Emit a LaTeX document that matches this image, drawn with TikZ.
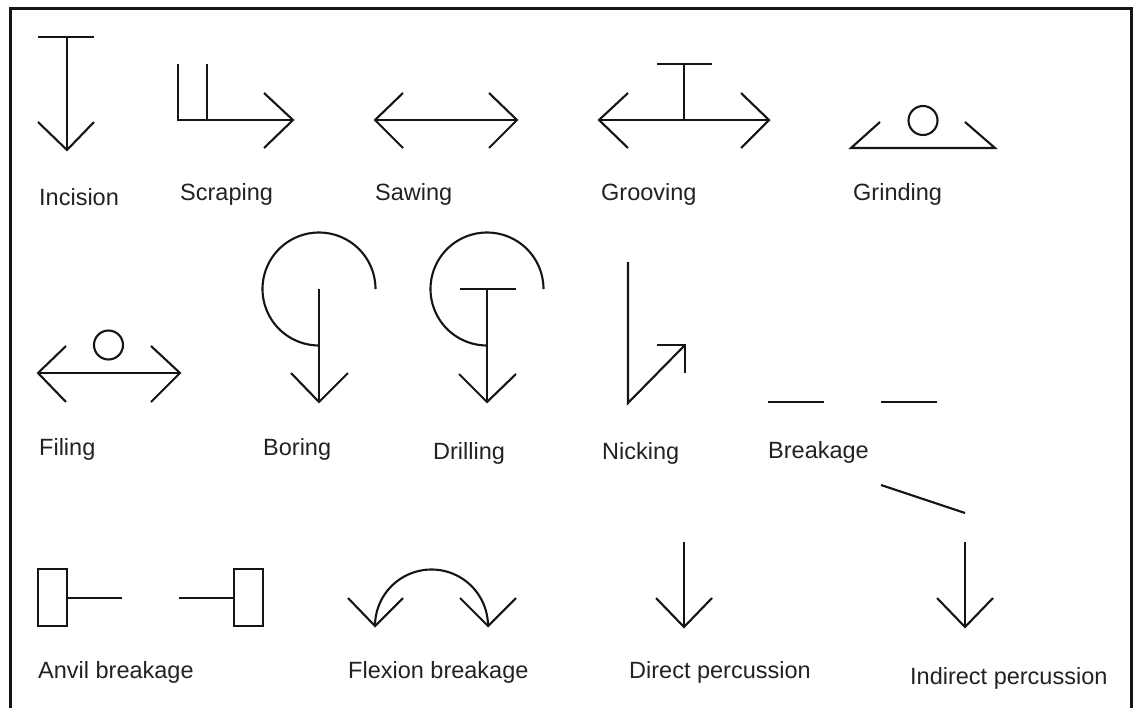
\documentclass[tikz,border=0pt]{standalone}
\usepackage{fontspec}
\setmainfont{Liberation Sans}
\definecolor{ink}{HTML}{151515}
\definecolor{txt}{HTML}{222222}
\begin{document}
\begin{tikzpicture}[x=1pt,y=-1pt,
  sym/.style={draw=ink,line width=2.1pt,line join=miter},
  lbl/.style={anchor=base west,inner sep=0pt,text=txt,font=\fontsize{23.5}{28}\selectfont},
  frame/.style={draw=ink,line width=3.4pt}]
\useasboundingbox[fill=white] (0,0) rectangle (1134,707);
\draw[frame] (10.5,720) -- (10.5,8.5) -- (1131.5,8.5) -- (1131.5,720);

% ---- Row 1 ----
% Incision
\draw[sym] (38,37) -- (94,37);
\draw[sym] (67,37) -- (67,150);
\draw[sym] (38,122) -- (67,150) -- (94,122);
\node[lbl] (incision) at (39,205) {Incision};

% Scraping
\draw[sym] (178,64) -- (178,120) -- (293,120);
\draw[sym] (207,64) -- (207,120);
\draw[sym] (264,93) -- (293,120) -- (264,148);
\node[lbl] (scraping) at (180,200) {Scraping};

% Sawing
\draw[sym] (375,120) -- (517,120);
\draw[sym] (403,93) -- (375,120) -- (403,148);
\draw[sym] (489,93) -- (517,120) -- (489,148);
\node[lbl] (sawing) at (375,200) {Sawing};

% Grooving
\draw[sym] (599,120) -- (769,120);
\draw[sym] (628,93) -- (599,120) -- (628,148);
\draw[sym] (741,93) -- (769,120) -- (741,148);
\draw[sym] (684,120) -- (684,64);
\draw[sym] (657,64) -- (712,64);
\node[lbl] (grooving) at (601,200) {Grooving};

% Grinding
\draw[sym] (880,122) -- (851,148) -- (995,148) -- (965,122);
\draw[sym] (923,120.5) circle[radius=14.5pt];
\node[lbl] (grinding) at (853,200) {Grinding};

% ---- Row 2 ----
% Filing
\draw[sym] (38,373) -- (180,373);
\draw[sym] (66,346) -- (38,373) -- (66,402);
\draw[sym] (151,346) -- (180,373) -- (151,402);
\draw[sym] (108.5,345) circle[radius=14.5pt];
\node[lbl] (filing) at (39,455) {Filing};

% Boring
\draw[sym] plot[domain=90:360,samples=80,smooth] ({319+56.5*cos(\x)},{289+56.5*sin(\x)});
\draw[sym] (319,289) -- (319,402);
\draw[sym] (291,373) -- (319,402) -- (348,373);
\node[lbl] (boring) at (263,455) {Boring};

% Drilling
\draw[sym] plot[domain=90:360,samples=80,smooth] ({487+56.5*cos(\x)},{289+56.5*sin(\x)});
\draw[sym] (460,289) -- (516,289);
\draw[sym] (487,289) -- (487,402);
\draw[sym] (459,374) -- (487,402) -- (516,374);
\node[lbl] (drilling) at (433,459) {Drilling};

% Nicking
\draw[sym] (628,262) -- (628,403) -- (685,345);
\draw[sym] (657,345) -- (685,345) -- (685,373);
\node[lbl] (nicking) at (602,459) {Nicking};

% Breakage
\draw[sym] (768,402) -- (824,402);
\draw[sym] (881,402) -- (937,402);
\node[lbl] (breakage) at (768,458) {Breakage};

% ---- Row 3 ----
% Anvil breakage
\draw[sym] (38,569) rectangle (67,626);
\draw[sym] (67,598) -- (122,598);
\draw[sym] (179,598) -- (234,598);
\draw[sym] (234,569) rectangle (263,626);
\node[lbl] (anvil) at (38,678) {Anvil breakage};

% Flexion breakage
\draw[sym] plot[domain=180:360,samples=60,smooth] ({431.5+56.5*cos(\x)},{626+56.5*sin(\x)});
\draw[sym] (348,598) -- (375,626) -- (403,598);
\draw[sym] (460,598) -- (488,626) -- (516,598);
\node[lbl] (flexion) at (348,678) {Flexion breakage};

% Direct percussion
\draw[sym] (684,542) -- (684,627);
\draw[sym] (656,598) -- (684,627) -- (712,598);
\node[lbl] (direct) at (629,678) {Direct percussion};

% Indirect percussion
\draw[sym] (881,485) -- (965,513);
\draw[sym] (965,542) -- (965,627);
\draw[sym] (937,598) -- (965,627) -- (993,598);
\node[lbl] (indirect) at (910,684) {Indirect percussion};
\end{tikzpicture}
\end{document}
